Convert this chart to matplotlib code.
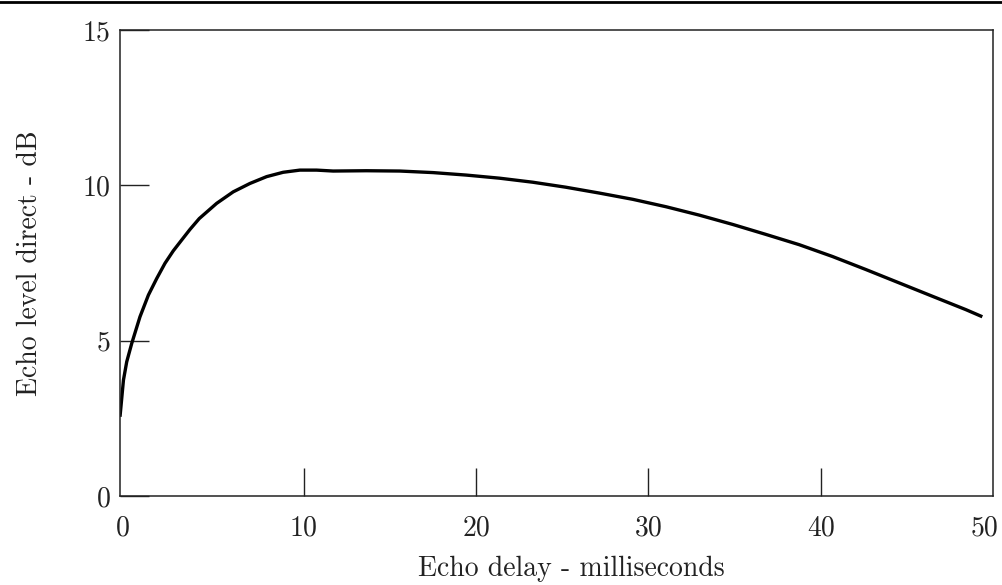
import matplotlib
matplotlib.use("Agg")
import matplotlib.pyplot as plt
from matplotlib.lines import Line2D
from matplotlib.transforms import ScaledTranslation

# Data
delay_ms = [-0.67, -0.47, -0.28, 0.01, 0.49, 0.98, 1.46, 1.94, 2.42, 2.91, 3.39,
            3.93, 4.94, 5.90, 6.87, 7.84, 8.80, 9.77, 10.74, 11.70, 13.63,
            15.57, 17.50, 19.43, 21.36, 23.29, 25.20, 27.16, 29.09, 31.03,
            32.96, 34.90, 36.82, 38.75, 40.68, 42.62, 44.55, 46.48, 48.42, 49.38]
echo_level_db = [2.55, 3.73, 4.32, 4.91, 5.77, 6.47, 7.00, 7.49, 7.89, 8.24, 8.58,
                 8.93, 9.42, 9.79, 10.06, 10.28, 10.42, 10.49, 10.49, 10.46, 10.47,
                 10.46, 10.41, 10.33, 10.23, 10.10, 9.94, 9.75, 9.55, 9.31,
                 9.04, 8.74, 8.42, 8.09, 7.71, 7.29, 6.86, 6.43, 6.00, 5.77]
x_ticks = [0, 10, 20, 30, 40, 50]
y_ticks = [0, 5, 10, 15]
x_label = "Echo delay - milliseconds"
y_label = "Echo level direct - dB"

plt.rcParams['font.family'] = 'serif'
plt.rcParams['font.serif'] = ['cmr10', 'DejaVu Serif']
plt.rcParams['axes.formatter.use_mathtext'] = True

fig = plt.figure(figsize=(10.03, 5.85), dpi=100)
ax = fig.add_axes([120/1003, 1-496/585, (993-120)/1003, (496-30)/585])

ax.plot(delay_ms, echo_level_db, color='black', lw=2.4,
        solid_capstyle='butt', solid_joinstyle='round')

ax.set_xlim(-0.67, 49.95)
ax.set_ylim(0, 15)
ax.set_xticks(x_ticks)
ax.set_yticks(y_ticks)
ax.set_xticklabels([str(t) for t in x_ticks])
ax.set_yticklabels([str(t) for t in y_ticks])

for s in ax.spines.values():
    s.set_linewidth(1.1)
    s.set_color('#222222')

ax.tick_params(axis='x', direction='in', length=20, width=1.0, pad=14,
               labelsize=20, colors='#222222')
ax.tick_params(axis='y', direction='in', length=21, width=1.0, pad=7,
               labelsize=20, colors='#222222')

# no visible tick marks at the ends of the x axis
xt = ax.xaxis.get_major_ticks()
for t in (xt[0], xt[-1]):
    t.tick1line.set_visible(False)
# end labels sit slightly left, as in the reference
lab0 = xt[0].label1
lab0.set_transform(lab0.get_transform() + ScaledTranslation(-0.09, 0, fig.dpi_scale_trans))
lab50 = xt[-1].label1
lab50.set_transform(lab50.get_transform() + ScaledTranslation(-0.08, 0, fig.dpi_scale_trans))

ax.set_xlabel(x_label, fontsize=20, color='#222222')
ax.set_ylabel(y_label, fontsize=20, color='#222222')
ax.xaxis.set_label_coords(0.517, -0.128)
ax.yaxis.set_label_coords(-0.088, 0.5)

fig.add_artist(Line2D([0, 1], [0.997, 0.997], transform=fig.transFigure,
                      color='black', lw=2))

fig.savefig("out.png", dpi=100)
